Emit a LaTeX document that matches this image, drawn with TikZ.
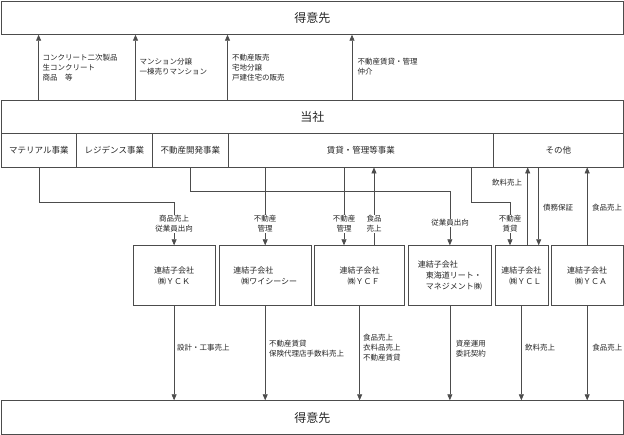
\documentclass[tikz,border=0pt]{standalone}
\usepackage{fontspec}
\setmainfont{Noto Sans CJK JP}
\usetikzlibrary{arrows.meta}
\begin{document}
\begin{tikzpicture}[x=1pt,y=-1pt,
  box/.style={draw=black!70, line width=0.7pt, anchor=north west, inner sep=0pt, text=black!85},
  bigtxt/.style={font=\fontsize{12}{14}\selectfont},
  segtxt/.style={font=\fontsize{8.5}{10}\selectfont},
  subtxt/.style={font=\fontsize{8}{11}\selectfont, align=left},
  conn/.style={draw=black!70, line width=0.7pt},
  arr/.style={conn, -{Triangle[width=5pt,length=6pt]}},
  lbl/.style={font=\fontsize{7.5}{10}\selectfont, align=left, inner sep=1pt, text=black!85},
  clbl/.style={lbl, align=center, fill=white, inner sep=0.5pt}]
\useasboundingbox (0,0) rectangle (624,435);

% main boxes
\node[box, bigtxt, minimum width=622pt, minimum height=33pt] (cust1) at (1,1) {得意先};
\node[box, bigtxt, minimum width=622pt, minimum height=33.6pt] (tosha) at (1,99.7) {当社};
\node[box, segtxt, minimum width=75pt, minimum height=33.4pt] (mat) at (1,133.3) {マテリアル事業};
\node[box, segtxt, minimum width=76pt, minimum height=33.4pt] (res) at (76,133.3) {レジデンス事業};
\node[box, segtxt, minimum width=76pt, minimum height=33.4pt] (dev) at (152,133.3) {不動産開発事業};
\node[box, segtxt, minimum width=265pt, minimum height=33.4pt] (rent) at (228,133.3) {賃貸・管理等事業};
\node[box, segtxt, minimum width=130pt, minimum height=33.4pt] (other) at (493,133.3) {その他};

% subsidiaries
\node[box, subtxt, minimum width=82.5pt, minimum height=59.7pt] (yck) at (132.5,245.3) {連結子会社\\\hspace*{0.5em}㈱ＹＣＫ};
\node[box, subtxt, minimum width=91.7pt, minimum height=59.7pt] (ycc) at (219,245.3) {連結子会社\\\hspace*{1em}㈱ワイシーシー};
\node[box, subtxt, minimum width=90pt, minimum height=59.7pt] (ycf) at (314.3,245.3) {連結子会社\\\hspace*{1em}㈱ＹＣＦ};
\node[box, subtxt, minimum width=82.4pt, minimum height=59.7pt] (tokai) at (408.3,245.3) {連結子会社\\\hspace*{1em}東海道リート・\\\hspace*{1em}マネジメント㈱};
\node[box, subtxt, minimum width=53pt, minimum height=59.7pt] (ycl) at (494.5,245.3) {連結子会社\\\hspace*{1em}㈱ＹＣＬ};
\node[box, subtxt, minimum width=71.7pt, minimum height=59.7pt] (yca) at (551,245.3) {連結子会社\\\hspace*{1em}㈱ＹＣＡ};

\node[box, bigtxt, minimum width=622pt, minimum height=34pt] (cust2) at (1,400.3) {得意先};

% arrows to top customers
\draw[arr] (38.6,0 |- tosha.north) -- (38.6,0 |- cust1.south);
\draw[arr] (135.5,0 |- tosha.north) -- (135.5,0 |- cust1.south);
\draw[arr] (227.5,0 |- tosha.north) -- (227.5,0 |- cust1.south);
\draw[arr] (352,0 |- tosha.north) -- (352,0 |- cust1.south);

% segment -> subsidiaries
\draw[arr] (mat.south) -- ++(0,35) -| (yck.north);
\draw[arr] (dev.south) -- ++(0,24.3) -| (tokai.north);
\draw[arr] (ycc.north |- rent.south) -- (ycc.north);
\draw[arr] (344,0 |- rent.south) -- (344,0 |- ycf.north);
\draw[arr] (374,0 |- ycf.north) -- (374,0 |- rent.south);
\draw[arr] (471.7,0 |- rent.south) -- (471.7,202) -| (510,0 |- ycl.north);
\draw[arr] (527.7,0 |- ycl.north) -- (527.7,0 |- other.south);
\draw[arr] (538.7,0 |- other.south) -- (538.7,0 |- ycl.north);
\draw[arr] (yca.north) -- (yca.north |- other.south);

% subsidiaries -> bottom customers
\foreach \s in {yck,ycc,ycf,tokai,ycl,yca}
  \draw[arr] (\s.south) -- (\s.south |- cust2.north);

% top labels
\node[lbl, anchor=west] (t1) at (41.5,68) {コンクリート二次製品\\生コンクリート\\商品　等};
\node[lbl, anchor=west] (t2) at (138.5,67) {マンション分譲\\一棟売りマンション};
\node[lbl, anchor=west] (t3) at (231,68) {不動産販売\\宅地分譲\\戸建住宅の販売};
\node[lbl, anchor=west] (t4) at (356.4,67) {不動産賃貸・管理\\仲介};

% middle labels
\node[clbl] (m1) at (174,224) {商品売上\\従業員出向};
\node[clbl] (m2) at (265,224) {不動産\\管理};
\node[clbl] (m3) at (344,224) {不動産\\管理};
\node[clbl] (m4) at (374,224) {食品\\売上};
\node[clbl] (m5) at (450,223) {従業員出向};
\node[clbl] (m6) at (510,224) {不動産\\賃貸};
\node[lbl] (m7) at (507,183) {飲料売上};
\node[lbl] (m8) at (558,208) {債務保証};
\node[lbl] (m9) at (607,208) {食品売上};

% bottom labels
\node[lbl, anchor=west] (b1) at (176,348) {設計・工事売上};
\node[lbl, anchor=west] (b2) at (268,349) {不動産賃貸\\保険代理店手数料売上};
\node[lbl, anchor=west] (b3) at (362,348) {食品売上\\衣料品売上\\不動産賃貸};
\node[lbl, anchor=west] (b4) at (454.7,349) {資産運用\\委託契約};
\node[lbl, anchor=west] (b5) at (524,348) {飲料売上};
\node[lbl, anchor=west] (b6) at (591.2,348) {食品売上};
\end{tikzpicture}
\end{document}
